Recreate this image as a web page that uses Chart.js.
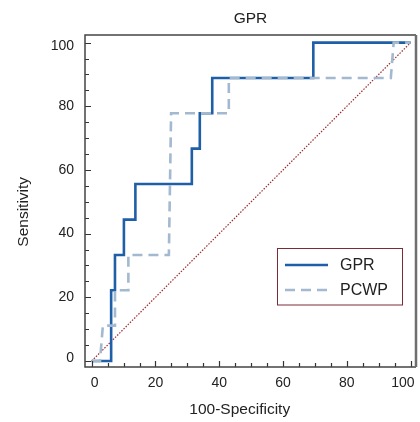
<!DOCTYPE html>
<html><head><meta charset="utf-8">
<script src="https://cdn.jsdelivr.net/npm/chart.js@4/dist/chart.umd.min.js"></script>
<style>html,body{margin:0;padding:0;background:#fff}#wrap{width:420px;height:422px;position:relative}</style>
</head><body><div id="wrap"><canvas id="c" width="420" height="422"></canvas></div>
<script>
// ---- data ----
const chartTitle = 'GPR';
const xTitle = '100-Specificity';
const yTitle = 'Sensitivity';
const seriesNames = ['GPR', 'PCWP'];
// ROC points: x = 100-Specificity, y = Sensitivity
const gprX  = [0, 6.1, 6.1, 7.3, 7.3, 10.1, 10.1, 13.7, 13.7, 31.4, 31.4, 33.9, 33.9, 37.8, 37.8, 69.5, 69.5, 100];
const gprY  = [0, 0, 22.2, 22.2, 33.3, 33.3, 44.4, 44.4, 55.6, 55.6, 66.7, 66.7, 77.8, 77.8, 88.9, 88.9, 100, 100];
const pcwpX = [0, 2.6, 3.5, 7.3, 7.3, 11.5, 11.5, 24.2, 24.9, 43.0, 43.0, 93.8, 94.7, 100];
const pcwpY = [0, 0, 11.1, 11.1, 22.2, 22.2, 33.3, 33.3, 77.8, 77.8, 88.9, 88.9, 100, 100];
const refX = [0, 100];
const refY = [0, 100];
const tickValues = [0, 20, 40, 60, 80, 100];
const minorStep = 5;

// style: end labels are pulled inside the frame (axis units)
const xLabelNudge = [0.9, 0, 0, 0, 0, -2.4];
const yLabelNudge = [0.75, 0, 0, 0, 0, -0.95];

const FONT = "'Liberation Sans', Arial, Helvetica, sans-serif";
const pts = (xs, ys) => xs.map((x, i) => ({x: x, y: ys[i]}));
const noPad = s => { s.paddingLeft = 0; s.paddingRight = 0; s.paddingTop = 0; s.paddingBottom = 0; };

const frameAndTicks = {
  id: 'frameAndTicks',
  afterDatasetsDraw(chart) {
    const {ctx, chartArea: a, scales: {x, y}} = chart;
    ctx.save();
    ctx.strokeStyle = '#333';
    ctx.lineWidth = 1.2;
    ctx.beginPath();
    for (let v = 0; v <= 100; v += minorStep) {
      const len = (v % 20 === 0) ? 6 : 4;
      const px = Math.round(x.getPixelForValue(v)) + 0.5;
      ctx.moveTo(px, a.bottom); ctx.lineTo(px, a.bottom - len);
      const py = Math.round(y.getPixelForValue(v)) + 0.5;
      ctx.moveTo(a.left, py); ctx.lineTo(a.left + len, py);
    }
    ctx.stroke();
    // frame
    ctx.lineWidth = 1.5;
    ctx.strokeStyle = '#444';
    ctx.beginPath();
    ctx.moveTo(a.right, a.top); ctx.lineTo(a.left, a.top); ctx.lineTo(a.left, a.bottom); ctx.lineTo(a.right, a.bottom);
    ctx.stroke();
    ctx.lineWidth = 2.5;
    ctx.strokeStyle = '#6e6e6e';
    ctx.beginPath();
    ctx.moveTo(a.right, a.top); ctx.lineTo(a.right, a.bottom);
    ctx.stroke();
    // legend
    const bx = 277.5, by = 248.5, bw = 125, bh = 56.5;
    ctx.fillStyle = '#fff';
    ctx.fillRect(bx, by, bw, bh);
    ctx.lineWidth = 1;
    ctx.strokeStyle = '#7b2b35';
    ctx.strokeRect(bx, by, bw, bh);
    const items = [chart.data.datasets[0], chart.data.datasets[1]];
    items.forEach((ds, i) => {
      const ly = 265 + i * 25;
      ctx.save();
      ctx.strokeStyle = ds.borderColor;
      ctx.lineWidth = ds.borderWidth;
      ctx.setLineDash(ds.borderDash || []);
      ctx.beginPath(); ctx.moveTo(285, ly); ctx.lineTo(328, ly); ctx.stroke();
      ctx.restore();
      ctx.fillStyle = '#222';
      ctx.font = '16px ' + FONT;
      ctx.textBaseline = 'middle';
      ctx.textAlign = 'left';
      ctx.fillText(ds.label, 340, ly + 1);
    });
    ctx.restore();
  }
};

new Chart(document.getElementById('c'), {
  type: 'scatter',
  data: {
    datasets: [
      {label: seriesNames[0], data: pts(gprX, gprY), showLine: true, borderColor: '#1f5fa8', borderWidth: 2.6, pointRadius: 0, order: 2},
      {label: seriesNames[1], data: pts(pcwpX, pcwpY), showLine: true, borderColor: '#a3b9cf', borderWidth: 2.6, borderDash: [10, 6], pointRadius: 0, order: 1},
      {label: 'ref', data: pts(refX, refY), showLine: true, borderColor: '#a0282c', borderWidth: 1.2, borderDash: [1.5, 1.5], pointRadius: 0, order: 3}
    ]
  },
  options: {
    responsive: false,
    animation: false,
    layout: {padding: {left: 0, right: 4, top: 0, bottom: 0}},
    plugins: {
      legend: {display: false},
      tooltip: {enabled: false},
      title: {display: false}
    },
    scales: {
      x: {
        type: 'linear', min: -2.1, max: 101.7,
        afterBuildTicks: s => { s.ticks = tickValues.map((v, i) => ({value: v + xLabelNudge[i]})); },
        afterFit: s => { s.height = 55; noPad(s); },
        grid: {display: false, drawTicks: false},
        border: {display: false},
        ticks: {color: '#222', font: {family: FONT, size: 14}, padding: 8, maxRotation: 0,
                callback: (val, i) => String(tickValues[i])},
        title: {display: true, text: xTitle + '     ', color: '#222', font: {family: FONT, size: 15.5}, padding: {top: 0, bottom: 3}}
      },
      top: {
        type: 'linear', position: 'top', min: -2.1, max: 101.7,
        afterBuildTicks: s => { s.ticks = []; },
        afterFit: s => { s.height = 35; noPad(s); },
        grid: {display: false, drawTicks: false},
        border: {display: false},
        ticks: {display: false},
        title: {display: true, text: chartTitle, color: '#222', font: {family: FONT, size: 15.5}, padding: {top: 9.5, bottom: 0}}
      },
      y: {
        type: 'linear', min: -1.9, max: 102.4,
        afterBuildTicks: s => { s.ticks = tickValues.map((v, i) => ({value: v + yLabelNudge[i]})); },
        afterFit: s => { s.width = 85; noPad(s); },
        grid: {display: false, drawTicks: false},
        border: {display: false},
        ticks: {color: '#222', font: {family: FONT, size: 14}, padding: 11,
                callback: (val, i) => String(tickValues[i])},
        title: {display: true, text: yTitle + '     ', color: '#222', font: {family: FONT, size: 15.5}, padding: {top: 14, bottom: 0}}
      }
    }
  },
  plugins: [frameAndTicks]
});
</script>
</body></html>
